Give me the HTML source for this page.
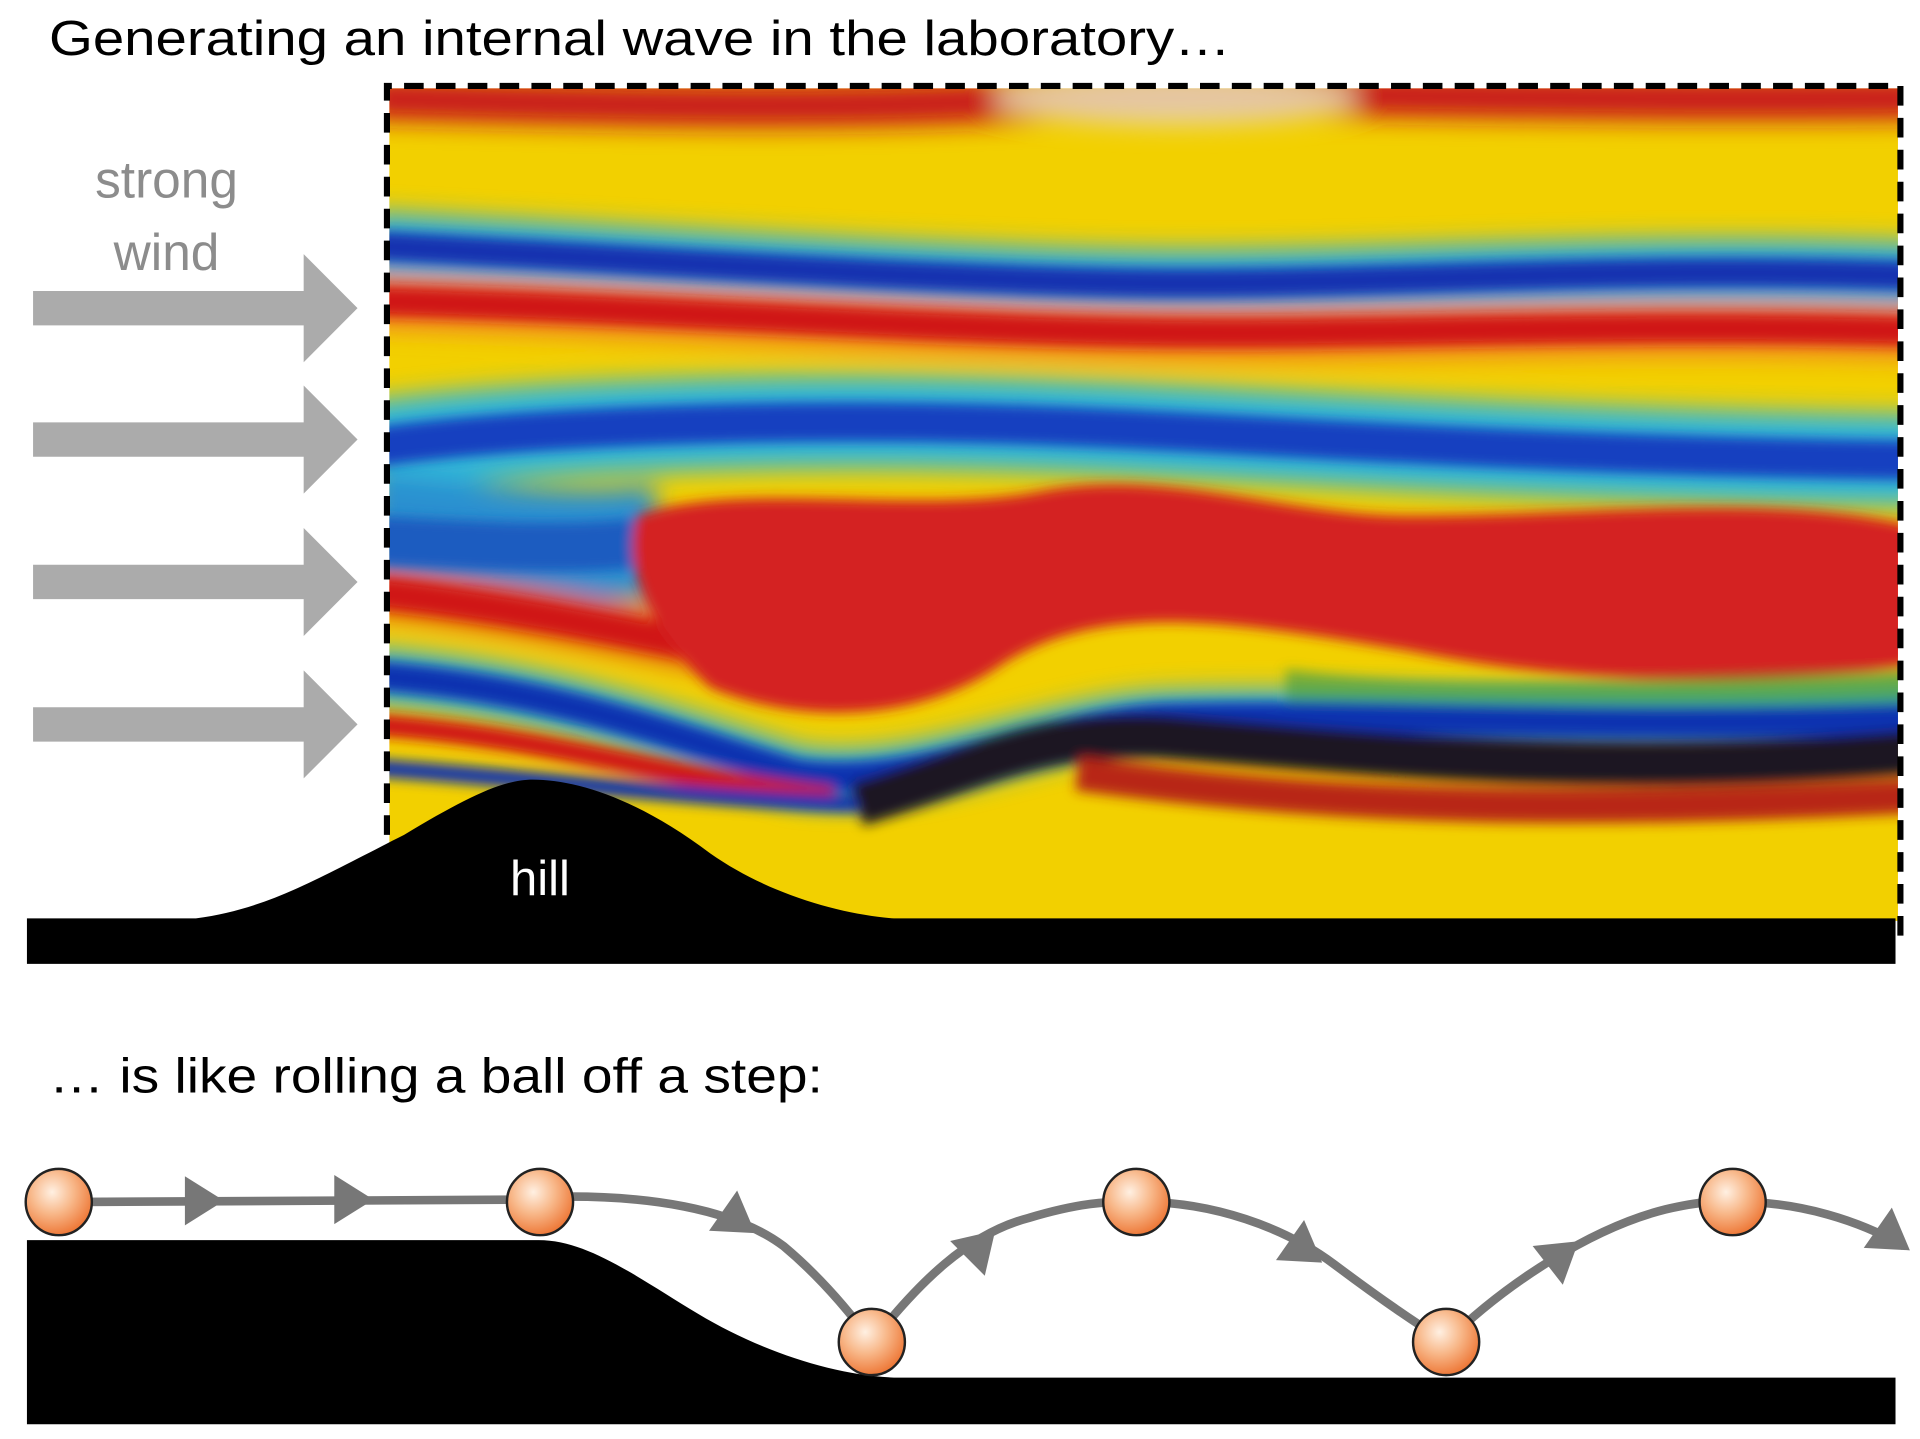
<!DOCTYPE html>
<html><head><meta charset="utf-8">
<style>html,body{margin:0;padding:0;background:#fff;}svg{display:block;}</style>
</head><body>
<svg width="1920" height="1439" viewBox="0 0 1568 1172" preserveAspectRatio="none" xmlns="http://www.w3.org/2000/svg">
<defs>
<clipPath id="img"><rect x="318" y="72" width="1232" height="678"/></clipPath>
<filter id="bl" x="-10%" y="-50%" width="120%" height="200%"><feGaussianBlur stdDeviation="10"/></filter>
<filter id="bl2" x="-10%" y="-50%" width="120%" height="200%"><feGaussianBlur stdDeviation="5"/></filter>
<radialGradient id="ball" cx="40%" cy="35%" r="65%">
<stop offset="0" stop-color="#fff0e2"/><stop offset="0.5" stop-color="#f8b88a"/><stop offset="1" stop-color="#ee7a3a"/>
</radialGradient>
</defs>
<rect width="1568" height="1172" fill="#fff"/>
<text x="40" y="45" font-family="Liberation Sans, sans-serif" font-size="40" fill="#000" textLength="965" lengthAdjust="spacingAndGlyphs">Generating an internal wave in the laboratory…</text>

<g clip-path="url(#img)">
<rect x="300" y="60" width="1270" height="700" fill="#f2d000"/>
<g filter="url(#bl)">
<path d="M300,80 C500,86 700,90 850,80 S1200,84 1570,80" stroke="#c8141c" stroke-width="34" fill="none"/>
<ellipse cx="960" cy="80" rx="150" ry="22" fill="#e8d8b0" opacity="0.9"/>
<path d="M300,200 C500,210 700,225 900,230 C1100,235 1300,215 1570,225" stroke="#30b0d8" stroke-width="55" fill="none"/>
<path d="M300,245 C500,250 700,265 900,270 C1100,275 1300,262 1570,270" stroke="#f08020" stroke-width="44" fill="none"/>
<path d="M300,365 C400,350 600,340 800,345 C1000,350 1200,370 1570,375" stroke="#30b8d8" stroke-width="75" fill="none"/>
<path d="M300,430 C400,440 470,450 540,440" stroke="#2a90d0" stroke-width="90" fill="none"/>
<path d="M300,480 C400,490 500,510 600,530" stroke="#e05018" stroke-width="40" fill="none"/>
<path d="M300,550 C450,560 550,600 650,630 C750,645 850,590 950,585 C1100,580 1300,590 1570,580" stroke="#30b0d8" stroke-width="44" fill="none"/>
</g>
<g filter="url(#bl2)">
<path d="M300,200 C500,210 700,225 900,230 C1100,235 1300,215 1570,225" stroke="#1432b0" stroke-width="24" fill="none"/>
<path d="M300,245 C500,250 700,265 900,270 C1100,275 1300,262 1570,270" stroke="#d01818" stroke-width="24" fill="none"/>
<path d="M300,365 C400,350 600,340 800,345 C1000,350 1200,370 1570,375" stroke="#1540c0" stroke-width="32" fill="none"/>
<path d="M300,440 C400,445 470,450 540,440" stroke="#1a5cc0" stroke-width="40" fill="none"/>
<path d="M300,482 C400,492 500,512 600,532" stroke="#d01818" stroke-width="24" fill="none"/>
<path d="M520,420 C600,390 750,420 850,400 C950,380 1050,420 1150,420 C1300,420 1450,400 1570,430 L1570,540 C1450,560 1300,560 1150,530 C1000,505 900,490 820,540 C750,590 650,590 580,560 C540,520 505,470 520,420 Z" fill="#d42020"/>
<path d="M1050,545 C1200,565 1350,550 1570,545 L1570,580 C1350,600 1200,590 1050,575 Z" fill="#3a9a40" opacity="0.6"/>
<path d="M300,550 C450,560 550,600 650,630 C750,645 850,590 950,585 C1100,580 1300,595 1570,585" stroke="#1030b0" stroke-width="24" fill="none"/>
<path d="M300,590 C450,600 550,635 680,650" stroke="#d01818" stroke-width="18" fill="none"/>
<path d="M300,625 C450,635 560,650 700,655" stroke="#1030b0" stroke-width="14" fill="none"/>
<path d="M700,655 C800,625 850,595 950,600 C1100,612 1300,635 1570,612" stroke="#1c1420" stroke-width="36" fill="none"/>
<path d="M880,630 C1100,660 1300,662 1570,648" stroke="#b82818" stroke-width="28" fill="none"/>
</g>
</g>

<path d="M22,748 L160,748 C220,740 260,715 330,680 C380,650 410,635 435,635 C470,635 520,650 580,695 C630,730 690,745 730,748 L1548,748 L1548,785 L22,785 Z" fill="#000"/>
<text x="441" y="729" text-anchor="middle" font-family="Liberation Sans, sans-serif" font-size="40" fill="#fff">hill</text>
<path d="M316,680 L316,70 L1552,70 L1552,770" fill="none" stroke="#000" stroke-width="5" stroke-dasharray="16 10"/>

<text x="136" y="161" text-anchor="middle" font-family="Liberation Sans, sans-serif" font-size="42" fill="#8c8c8c">strong</text>
<text x="136" y="220" text-anchor="middle" font-family="Liberation Sans, sans-serif" font-size="42" fill="#8c8c8c">wind</text>
<g fill="#ababab">
<polygon points="27,237 248,237 248,207 292,251 248,295 248,265 27,265"/>
<polygon points="27,344 248,344 248,314 292,358 248,402 248,372 27,372"/>
<polygon points="27,460 248,460 248,430 292,474 248,518 248,488 27,488"/>
<polygon points="27,576 248,576 248,546 292,590 248,634 248,604 27,604"/>
</g>

<text x="40" y="890" font-family="Liberation Sans, sans-serif" font-size="40" fill="#000" textLength="632" lengthAdjust="spacingAndGlyphs">… is like rolling a ball off a step:</text>

<path d="M22,1010 L440,1010 C480,1010 520,1040 570,1070 C620,1100 680,1120 730,1122 L1548,1122 L1548,1160 L22,1160 Z" fill="#000"/>

<g stroke="#777" stroke-width="7" fill="none">
<path d="M48,979 L441,977"/>
<path d="M441,975 C530,972 600,985 640,1015 C670,1040 695,1070 712,1093"/>
<path d="M712,1093 C750,1045 790,1005 840,992 C880,980 905,978 928,979"/>
<path d="M928,979 C990,978 1050,1000 1090,1030 C1130,1060 1160,1080 1181,1093"/>
<path d="M1181,1093 C1230,1045 1300,1000 1360,985 C1390,978 1405,978 1415,979"/>
<path d="M1415,979 C1470,978 1520,995 1555,1015"/>
</g>
<g fill="#777">
<polygon points="18,0 -14,-20 -14,20" transform="translate(165,978)"/>
<polygon points="18,0 -14,-20 -14,20" transform="translate(287,977)"/>
<polygon points="18,0 -14,-20 -14,20" transform="translate(602,994) rotate(35)"/>
<polygon points="18,0 -14,-20 -14,20" transform="translate(800,1015) rotate(-45)"/>
<polygon points="18,0 -14,-20 -14,20" transform="translate(1065,1018) rotate(35)"/>
<polygon points="18,0 -14,-20 -14,20" transform="translate(1275,1022) rotate(-38)"/>
<polygon points="18,0 -14,-20 -14,20" transform="translate(1545,1008) rotate(35)"/>
</g>
<g fill="url(#ball)" stroke="#222" stroke-width="2">
<circle cx="48" cy="979" r="27"/>
<circle cx="441" cy="979" r="27"/>
<circle cx="712" cy="1093" r="27"/>
<circle cx="928" cy="979" r="27"/>
<circle cx="1181" cy="1093" r="27"/>
<circle cx="1415" cy="979" r="27"/>
</g>
</svg>
</body></html>
